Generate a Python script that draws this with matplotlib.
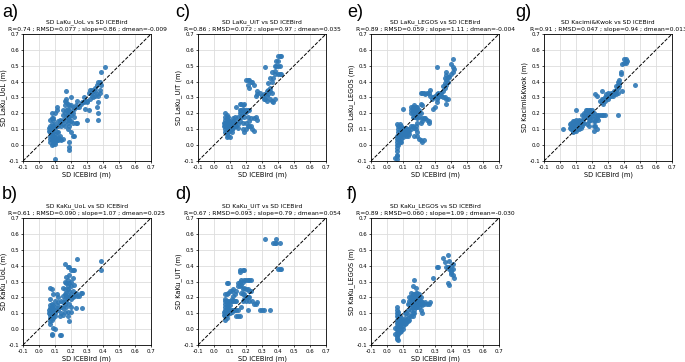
import matplotlib
matplotlib.use("Agg")
import matplotlib.pyplot as plt
import numpy as np

# ---------------- data ----------------
# panel a) LaKu_UoL
a_pts = [(0.07,0.12),(0.07,0.10),(0.07,0.08),(0.07,0.06),(0.07,0.04),(0.08,0.13),(0.08,0.11),(0.08,0.09),(0.08,0.07),(0.08,0.05),(0.08,0.03),(0.08,0.17),(0.08,0.20),(0.09,0.12),(0.09,0.10),(0.09,0.08),(0.09,0.06),(0.09,0.04),(0.09,0.03),(0.09,0.17),(0.10,0.02),(0.10,0.05),(0.10,0.07),(0.10,0.11),(0.10,0.13),(0.10,0.20),(0.11,0.03),(0.11,0.04),(0.11,0.22),(0.11,0.24),(0.12,0.03),(0.12,0.05),(0.12,0.12),(0.12,0.15),(0.13,0.04),(0.13,0.06),(0.13,0.14),(0.13,0.16),(0.14,0.03),(0.14,0.12),(0.14,0.15),(0.15,0.04),(0.15,0.16),(0.09,0.16),(0.07,0.16),(0.10,-0.09),(0.06,0.11),(0.06,0.09),(0.07,0.02),(0.10,0.01),(0.11,0.08),(0.12,0.08),(0.09,0.01),(0.08,0.00),
(0.15,0.19),(0.15,0.22),(0.16,0.20),(0.16,0.28),(0.16,0.25),(0.17,0.27),(0.17,0.34),(0.17,0.22),(0.17,0.18),(0.18,0.19),(0.18,0.21),(0.18,0.23),(0.18,0.17),(0.18,0.14),(0.18,0.10),(0.19,0.20),(0.19,0.22),(0.19,0.18),(0.19,0.16),(0.19,0.12),(0.19,0.02),(0.19,-0.01),(0.19,-0.03),(0.20,0.30),(0.20,0.21),(0.20,0.19),(0.20,0.15),(0.20,0.08),(0.21,0.24),(0.21,0.20),(0.21,0.14),(0.21,0.06),(0.22,0.06),(0.22,0.18),(0.22,0.23),(0.23,0.14),(0.23,0.25),(0.24,0.28),(0.24,0.24),(0.25,0.24),(0.26,0.26),(0.24,0.14),(0.16,0.12),(0.17,0.15),(0.15,0.13),(0.20,0.25),(0.19,0.25),(0.18,0.26),(0.17,0.29),
(0.27,0.27),(0.28,0.30),(0.28,0.27),(0.29,0.28),(0.30,0.28),(0.30,0.27),(0.30,0.16),(0.31,0.22),(0.31,0.33),(0.32,0.35),(0.32,0.29),(0.33,0.31),(0.33,0.35),(0.34,0.34),(0.34,0.30),(0.35,0.36),(0.35,0.31),(0.36,0.38),(0.36,0.32),(0.36,0.24),(0.37,0.40),(0.37,0.31),(0.37,0.27),(0.37,0.20),(0.37,0.16),(0.38,0.40),(0.38,0.33),(0.39,0.38),(0.39,0.46),(0.41,0.49),(0.42,0.31),(0.38,0.35),(0.35,0.34),(0.33,0.33),(0.29,0.23)]

# panel b) KaKu_UoL
b_pts = [(0.07,0.26),(0.08,0.25),(0.07,0.19),(0.07,0.15),(0.07,0.13),(0.07,0.11),(0.07,0.09),(0.07,0.07),(0.07,0.05),(0.08,0.16),(0.08,0.14),(0.08,0.12),(0.08,0.10),(0.08,0.08),(0.08,0.06),(0.08,-0.03),(0.08,-0.04),(0.09,0.22),(0.09,0.15),(0.09,0.13),(0.09,0.11),(0.09,0.09),(0.09,0.07),(0.09,0.01),(0.10,0.12),(0.10,0.10),(0.10,0.08),(0.10,0.00),(0.10,0.18),(0.11,0.13),(0.11,0.15),(0.11,0.22),(0.12,0.17),(0.12,0.20),(0.12,0.12),(0.13,0.08),(0.13,-0.04),(0.14,-0.04),(0.14,0.10),(0.14,0.18),(0.07,0.03),(0.06,0.12),(0.06,0.10),
(0.15,0.26),(0.15,0.21),(0.15,0.17),(0.15,0.13),(0.16,0.41),(0.16,0.30),(0.16,0.25),(0.16,0.22),(0.16,0.19),(0.16,0.16),(0.16,0.11),(0.17,0.33),(0.17,0.29),(0.17,0.23),(0.17,0.21),(0.17,0.18),(0.17,0.14),(0.18,0.39),(0.18,0.31),(0.18,0.27),(0.18,0.25),(0.18,0.20),(0.18,0.11),(0.18,0.08),(0.19,0.39),(0.19,0.34),(0.19,0.29),(0.19,0.24),(0.19,0.21),(0.19,0.16),(0.19,0.05),(0.20,0.37),(0.20,0.30),(0.20,0.27),(0.20,0.22),(0.20,0.19),(0.20,0.14),(0.20,0.11),(0.21,0.37),(0.21,0.32),(0.21,0.24),(0.21,0.20),(0.22,0.37),(0.22,0.28),(0.22,0.21),(0.23,0.13),(0.23,0.23),(0.24,0.44),(0.24,0.21),(0.25,0.21),(0.26,0.23),(0.27,0.13),(0.27,0.23),(0.15,0.09),(0.14,0.14),
(0.39,0.43),(0.39,0.37)]

# panel c) LaKu_UiT
c_pts = [(0.40,0.56),(0.41,0.56),(0.42,0.56),(0.39,0.53),(0.40,0.53),(0.41,0.50),(0.40,0.50),(0.39,0.50),(0.38,0.50),(0.40,0.45),(0.41,0.45),(0.42,0.45),(0.38,0.45),(0.32,0.49),(0.36,0.46),(0.38,0.47),(0.35,0.42),(0.37,0.42),(0.34,0.39),(0.36,0.40),(0.35,0.36),(0.34,0.35),(0.33,0.34),(0.35,0.34),(0.36,0.33),(0.34,0.32),(0.33,0.31),(0.31,0.32),(0.30,0.31),(0.31,0.29),(0.32,0.29),(0.33,0.28),(0.35,0.29),(0.36,0.28),(0.37,0.27),(0.38,0.29),(0.27,0.32),(0.26,0.31),(0.20,0.41),(0.21,0.41),(0.22,0.41),(0.23,0.40),(0.24,0.40),(0.21,0.38),(0.22,0.36),(0.25,0.38),(0.27,0.34),(0.29,0.33),
(0.14,0.24),(0.16,0.26),(0.17,0.26),(0.18,0.25),(0.19,0.26),(0.16,0.22),(0.17,0.22),(0.18,0.22),(0.19,0.22),(0.20,0.22),(0.21,0.22),(0.22,0.22),(0.16,0.20),(0.17,0.20),(0.18,0.20),(0.19,0.20),(0.20,0.21),(0.15,0.18),(0.17,0.18),(0.19,0.18),(0.21,0.18),(0.23,0.17),(0.25,0.17),(0.26,0.18),(0.27,0.16),(0.22,0.15),(0.20,0.14),(0.21,0.12),(0.22,0.12),(0.23,0.12),(0.24,0.10),(0.25,0.09),(0.19,0.08),(0.18,0.10),(0.20,0.10),(0.18,0.14),(0.16,0.15),
(0.07,0.20),(0.07,0.18),(0.07,0.16),(0.07,0.14),(0.07,0.12),(0.07,0.10),(0.07,0.08),(0.08,0.19),(0.08,0.17),(0.08,0.15),(0.08,0.13),(0.08,0.11),(0.08,0.09),(0.08,0.07),(0.08,0.05),(0.09,0.18),(0.09,0.16),(0.09,0.14),(0.09,0.12),(0.09,0.10),(0.09,0.08),(0.09,0.06),(0.10,0.15),(0.10,0.13),(0.10,0.11),(0.10,0.09),(0.11,0.14),(0.11,0.12),(0.11,0.10),(0.11,0.08),(0.12,0.13),(0.12,0.11),(0.12,0.15),(0.13,0.14),(0.13,0.12),(0.14,0.15),(0.14,0.12),(0.15,0.13),(0.15,0.11),(0.12,0.17),(0.13,0.18),(0.06,0.12),(0.06,0.14),(0.10,0.05)]

# panel d) KaKu_UiT
d_pts = [(0.32,0.57),(0.39,0.57),(0.37,0.54),(0.38,0.54),(0.39,0.54),(0.41,0.54),(0.40,0.38),(0.41,0.38),(0.42,0.38),(0.16,0.37),(0.16,0.36),(0.18,0.37),(0.19,0.37),
(0.08,0.29),(0.09,0.29),(0.15,0.29),(0.16,0.30),(0.17,0.31),(0.18,0.30),(0.19,0.31),(0.20,0.31),(0.21,0.31),(0.22,0.31),(0.23,0.31),(0.15,0.27),(0.16,0.27),(0.17,0.28),(0.18,0.25),(0.19,0.26),(0.20,0.25),(0.21,0.25),(0.22,0.24),(0.23,0.24),(0.17,0.23),(0.18,0.22),(0.19,0.22),(0.20,0.20),(0.21,0.20),(0.22,0.20),(0.19,0.19),(0.18,0.18),(0.20,0.18),(0.22,0.18),(0.24,0.18),(0.25,0.16),(0.27,0.17),(0.26,0.16),(0.21,0.12),(0.29,0.12),(0.30,0.12),(0.31,0.12),(0.35,0.12),(0.17,0.14),(0.15,0.12),(0.16,0.08),(0.14,0.08),(0.15,0.08),
(0.07,0.22),(0.08,0.22),(0.09,0.23),(0.10,0.24),(0.11,0.24),(0.07,0.19),(0.07,0.18),(0.07,0.16),(0.07,0.14),(0.07,0.12),(0.07,0.10),(0.07,0.08),(0.07,0.06),(0.08,0.18),(0.08,0.15),(0.08,0.13),(0.08,0.11),(0.08,0.09),(0.08,0.07),(0.09,0.18),(0.09,0.16),(0.09,0.14),(0.09,0.12),(0.09,0.10),(0.10,0.18),(0.10,0.15),(0.10,0.12),(0.10,0.10),(0.11,0.18),(0.11,0.12),(0.11,0.11),(0.12,0.18),(0.12,0.12),(0.13,0.18),(0.13,0.12),(0.14,0.18),(0.14,0.12),(0.12,0.21),(0.13,0.22),(0.14,0.24),(0.12,0.25),(0.11,0.19),(0.06,0.09),(0.06,0.11)]

# panel e) LaKu_LEGOS
e_pts = [(0.41,0.54),(0.40,0.51),(0.41,0.49),(0.42,0.48),(0.41,0.46),(0.40,0.45),(0.37,0.46),(0.37,0.44),(0.38,0.43),(0.39,0.43),(0.36,0.42),(0.37,0.41),(0.38,0.40),(0.36,0.39),(0.37,0.38),(0.35,0.37),(0.36,0.36),(0.35,0.34),(0.34,0.33),(0.33,0.32),(0.32,0.33),(0.31,0.32),(0.30,0.31),(0.31,0.29),(0.32,0.30),(0.34,0.31),(0.35,0.30),(0.36,0.30),(0.37,0.29),(0.38,0.29),(0.37,0.26),(0.31,0.49),(0.29,0.23),(0.30,0.24),(0.31,0.27),(0.27,0.35),(0.25,0.33),(0.23,0.33),(0.22,0.33),(0.21,0.33),(0.26,0.33),(0.24,0.32),(0.27,0.31),(0.28,0.29),(0.29,0.30),
(0.15,0.24),(0.16,0.24),(0.17,0.25),(0.18,0.24),(0.19,0.24),(0.15,0.22),(0.16,0.22),(0.17,0.22),(0.18,0.22),(0.19,0.22),(0.20,0.22),(0.15,0.20),(0.16,0.20),(0.17,0.20),(0.18,0.20),(0.19,0.20),(0.20,0.21),(0.21,0.20),(0.16,0.18),(0.17,0.18),(0.18,0.18),(0.19,0.17),(0.20,0.18),(0.22,0.17),(0.23,0.17),(0.24,0.17),(0.25,0.16),(0.26,0.15),(0.26,0.14),(0.21,0.14),(0.22,0.15),(0.19,0.14),(0.18,0.12),(0.17,0.11),(0.18,0.10),(0.19,0.08),(0.19,0.06),(0.20,0.04),(0.21,0.03),(0.22,0.02),(0.23,0.03),(0.17,0.06),(0.10,0.23),(0.21,0.26),(0.22,0.25),
(0.06,0.13),(0.07,0.12),(0.07,0.10),(0.07,0.08),(0.06,0.06),(0.06,0.04),(0.06,0.02),(0.06,0.00),(0.06,-0.02),(0.06,-0.04),(0.06,-0.06),(0.06,-0.07),(0.06,-0.09),(0.05,-0.08),(0.07,0.06),(0.07,0.03),(0.08,0.13),(0.08,0.11),(0.08,0.09),(0.08,0.07),(0.08,0.05),(0.09,0.12),(0.09,0.10),(0.09,0.08),(0.09,0.06),(0.09,0.04),(0.10,0.11),(0.10,0.09),(0.10,0.07),(0.10,0.05),(0.11,0.10),(0.11,0.08),(0.11,0.07),(0.12,0.09),(0.12,0.07),(0.12,0.06),(0.13,0.08),(0.13,0.06),(0.14,0.07),(0.14,0.09),(0.15,0.10),(0.15,0.12),(0.16,0.12),(0.09,0.02),(0.07,0.00),(0.08,0.02),(0.12,0.11),(0.13,0.10)]

# panel f) KaKu_LEGOS
f_pts = [(0.38,0.47),(0.35,0.45),(0.39,0.43),(0.36,0.42),(0.41,0.41),(0.40,0.40),(0.38,0.39),(0.39,0.38),(0.41,0.38),(0.40,0.37),(0.37,0.39),(0.32,0.39),(0.31,0.39),(0.29,0.32),(0.40,0.36),(0.41,0.34),(0.42,0.32),(0.38,0.29),(0.39,0.28),(0.40,0.35),
(0.17,0.31),(0.16,0.27),(0.18,0.26),(0.15,0.23),(0.16,0.22),(0.17,0.22),(0.18,0.23),(0.19,0.23),(0.20,0.22),(0.15,0.20),(0.16,0.20),(0.17,0.20),(0.18,0.20),(0.19,0.20),(0.20,0.20),(0.21,0.20),(0.14,0.18),(0.15,0.18),(0.16,0.18),(0.17,0.18),(0.18,0.18),(0.19,0.18),(0.20,0.18),(0.21,0.18),(0.22,0.17),(0.23,0.16),(0.24,0.17),(0.26,0.16),(0.27,0.17),(0.25,0.16),(0.14,0.16),(0.15,0.16),(0.16,0.16),(0.17,0.16),(0.18,0.16),(0.19,0.16),(0.20,0.16),(0.21,0.16),(0.22,0.15),(0.15,0.14),(0.16,0.14),(0.17,0.14),(0.18,0.14),(0.19,0.14),(0.20,0.14),(0.21,0.12),(0.22,0.10),(0.17,0.12),(0.15,0.12),(0.16,0.10),(0.13,0.12),(0.12,0.10),(0.11,0.10),(0.10,0.18),(0.13,0.16),(0.14,0.20),
(0.06,0.14),(0.06,0.12),(0.06,0.10),(0.06,0.08),(0.06,0.06),(0.06,0.04),(0.06,0.02),(0.06,0.00),(0.06,-0.02),(0.06,-0.04),(0.06,-0.06),(0.07,-0.07),(0.07,0.09),(0.07,0.07),(0.07,0.05),(0.07,0.03),(0.07,0.01),(0.07,-0.01),(0.07,-0.03),(0.08,0.08),(0.08,0.06),(0.08,0.04),(0.08,0.02),(0.08,0.00),(0.08,-0.02),(0.09,0.07),(0.09,0.05),(0.09,0.03),(0.09,0.01),(0.09,-0.01),(0.10,0.06),(0.10,0.04),(0.10,0.02),(0.10,0.00),(0.11,0.05),(0.11,0.03),(0.11,0.07),(0.12,0.06),(0.12,0.04),(0.13,0.07),(0.13,0.05),(0.14,0.06),(0.14,0.09),(0.15,0.08),(0.16,0.08),(0.17,0.10),(0.05,0.01),(0.05,-0.03),(0.06,-0.05),(0.07,0.11)]

# panel g) Kacimi&Kwok
g_pts = [(0.40,0.54),(0.41,0.54),(0.42,0.53),(0.40,0.52),(0.41,0.52),(0.39,0.51),(0.38,0.46),(0.38,0.45),(0.37,0.41),(0.36,0.40),(0.37,0.39),(0.36,0.38),(0.37,0.37),(0.35,0.37),(0.36,0.36),(0.35,0.35),(0.34,0.34),(0.33,0.33),(0.32,0.33),(0.31,0.32),(0.30,0.33),(0.29,0.32),(0.31,0.31),(0.32,0.31),(0.33,0.31),(0.34,0.32),(0.35,0.32),(0.36,0.33),(0.30,0.30),(0.29,0.30),(0.28,0.30),(0.27,0.29),(0.26,0.29),(0.28,0.28),(0.30,0.29),(0.26,0.34),(0.22,0.32),(0.23,0.31),(0.25,0.28),(0.26,0.27),(0.27,0.26),(0.47,0.38),(0.36,0.19),(0.39,0.34),
(0.16,0.22),(0.17,0.22),(0.18,0.22),(0.19,0.22),(0.20,0.22),(0.16,0.21),(0.17,0.21),(0.18,0.21),(0.19,0.21),(0.20,0.21),(0.15,0.20),(0.16,0.20),(0.17,0.20),(0.18,0.20),(0.19,0.20),(0.20,0.20),(0.21,0.20),(0.14,0.19),(0.15,0.19),(0.16,0.18),(0.17,0.18),(0.18,0.18),(0.19,0.18),(0.20,0.18),(0.22,0.18),(0.23,0.19),(0.24,0.19),(0.25,0.19),(0.26,0.19),(0.27,0.19),(0.28,0.19),(0.23,0.17),(0.24,0.16),(0.22,0.15),(0.21,0.15),(0.19,0.16),(0.21,0.12),(0.22,0.12),(0.23,0.10),(0.21,0.09),(0.18,0.12),(0.18,0.15),(0.15,0.17),(0.14,0.16),(0.10,0.22),(0.15,0.14),(0.17,0.13),
(0.02,0.10),(0.06,0.13),(0.06,0.11),(0.07,0.14),(0.07,0.12),(0.07,0.10),(0.08,0.15),(0.08,0.13),(0.08,0.11),(0.08,0.09),(0.09,0.15),(0.09,0.13),(0.09,0.11),(0.09,0.10),(0.10,0.16),(0.10,0.14),(0.10,0.12),(0.10,0.10),(0.11,0.15),(0.11,0.13),(0.11,0.11),(0.12,0.16),(0.12,0.14),(0.12,0.12),(0.12,0.10),(0.13,0.15),(0.13,0.13),(0.13,0.11),(0.14,0.14),(0.14,0.12),(0.08,0.08),(0.09,0.09),(0.10,0.09)]

panel_letters = ["a)", "b)", "c)", "d)", "e)", "f)", "g)"]
products = ["LaKu_UoL", "KaKu_UoL", "LaKu_UiT", "KaKu_UiT", "LaKu_LEGOS", "KaKu_LEGOS", "Kacimi&Kwok"]
stats = ["R=0.74 ; RMSD=0.077 ; slope=0.86 ; dmean=-0.009",
         "R=0.61 ; RMSD=0.090 ; slope=1.07 ; dmean=0.025",
         "R=0.86 ; RMSD=0.072 ; slope=0.97 ; dmean=0.035",
         "R=0.67 ; RMSD=0.093 ; slope=0.79 ; dmean=0.054",
         "R=0.89 ; RMSD=0.059 ; slope=1.11 ; dmean=-0.004",
         "R=0.89 ; RMSD=0.060 ; slope=1.09 ; dmean=-0.030",
         "R=0.91 ; RMSD=0.047 ; slope=0.94 ; dmean=0.013"]
all_pts = [a_pts, b_pts, c_pts, d_pts, e_pts, f_pts, g_pts]
ticks = [-0.1, 0.0, 0.1, 0.2, 0.3, 0.4, 0.5, 0.6, 0.7]

# ---------------- layout ----------------
W, H = 685, 362
fig = plt.figure(figsize=(W / 100, H / 100), dpi=100)
col_left = [23, 198, 371, 544]
row_top = [34, 218]
ax_w, ax_h = 128, 127
label_pos = [(2, 4), (2, 186), (175, 4), (175, 186), (347, 4), (347, 186), (515, 4)]

for i, (pts, prod, st, letter) in enumerate(zip(all_pts, products, stats, panel_letters)):
    col, row = i // 2, i % 2
    l = col_left[col]
    t = row_top[row]
    ax = fig.add_axes([l / W, 1 - (t + ax_h) / H, ax_w / W, ax_h / H])
    xs = np.array([p[0] for p in pts])
    ys = np.array([p[1] for p in pts])
    ax.grid(True, color="#dddddd", linewidth=0.6, zorder=0)
    ax.scatter(xs, ys, s=13, color="#2f78b5", alpha=0.9, linewidths=0, zorder=2)
    ax.plot([-0.1, 0.7], [-0.1, 0.7], linestyle="--", color="black", linewidth=0.7, zorder=3)
    ax.set_xlim(-0.1, 0.7)
    ax.set_ylim(-0.1, 0.7)
    ax.set_xticks(ticks)
    ax.set_yticks(ticks)
    ax.set_xticklabels([f"{v:.1f}" for v in ticks])
    ax.set_yticklabels([f"{v:.1f}" for v in ticks])
    ax.tick_params(labelsize=3.9, length=1.5, width=0.5, pad=1.2)
    for sp in ax.spines.values():
        sp.set_linewidth(0.6)
    ax.set_title(f"SD {prod} vs SD ICEBird\n{st}", fontsize=4.3, pad=2, linespacing=1.5)
    ax.set_xlabel("SD ICEBird (m)", fontsize=4.8, labelpad=1)
    ax.set_ylabel(f"SD {prod} (m)", fontsize=4.8, labelpad=1.5)
    fig.text(label_pos[i][0] / W, 1 - label_pos[i][1] / H, letter, fontsize=13,
             family="Liberation Sans", va="top", ha="left")

fig.savefig("out.png", dpi=100)
